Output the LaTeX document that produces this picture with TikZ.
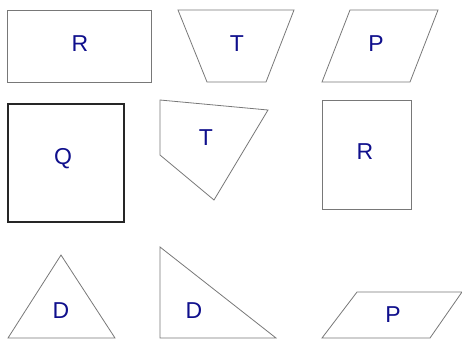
\documentclass[tikz,border=0pt]{standalone}
\usepackage{fontspec}
\setmainfont{Liberation Sans}
\usepackage{xcolor}
\usepackage{tikz}
\definecolor{labelblue}{RGB}{15,15,140}
\definecolor{edgegray}{RGB}{120,120,120}

\begin{document}
\begin{tikzpicture}[x=1pt, y=-1pt,
  outline/.style={draw=edgegray, line width=0.8pt},
  boldoutline/.style={draw=black!85, line width=1.6pt},
  lbl/.style={text=labelblue, font=\fontsize{23}{26}\selectfont, inner sep=0pt}]
  \useasboundingbox (0,0) rectangle (462,338);
  % Row 1
  \draw[outline] (7,10) rectangle (151,82);
  \node[lbl] (r1) at (80,44) {R};
  \draw[outline] (178,10) -- (294,10) -- (266,82) -- (207,82) -- cycle;
  \node[lbl] (t1) at (237,44) {T};
  \draw[outline] (350,10) -- (438,10) -- (410,82) -- (322,82) -- cycle;
  \node[lbl] (p1) at (376,44) {P};
  % Row 2
  \draw[boldoutline] (8,104) rectangle (124,222);
  \node[lbl] (q) at (63,159) {Q};
  \draw[outline] (160,100) -- (268,110) -- (214,200) -- (160,155) -- cycle;
  \node[lbl] (t2) at (206,138) {T};
  \draw[outline] (322,100) rectangle (411,209);
  \node[lbl] (r2) at (365,152) {R};
  % Row 3
  \draw[outline] (61,255) -- (115,338) -- (8,338) -- cycle;
  \node[lbl] (d1) at (61,311) {D};
  \draw[outline] (160,247) -- (276,338) -- (160,338) -- cycle;
  \node[lbl] (d2) at (194,311) {D};
  \draw[outline] (357,292) -- (462,292) -- (430,338) -- (322,338) -- cycle;
  \node[lbl] (p2) at (393,315) {P};
\end{tikzpicture}
\end{document}
